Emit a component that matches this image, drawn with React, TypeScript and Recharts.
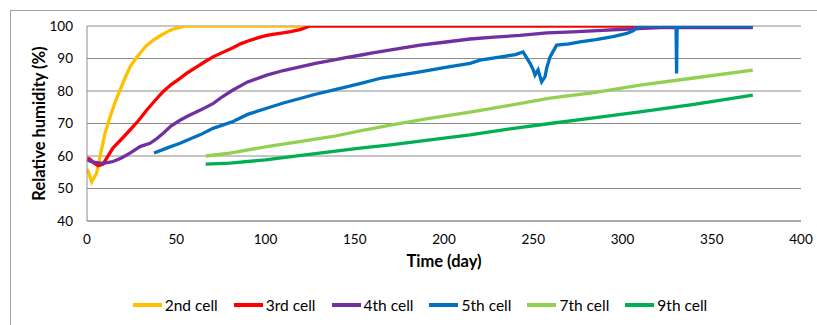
import React from 'react';
import { LineChart, Line, XAxis, YAxis, CartesianGrid, Label } from 'recharts';

const xTicks = [0, 50, 100, 150, 200, 250, 300, 350, 400];
const yTicks = [40, 50, 60, 70, 80, 90, 100];

const seriesNames = ['2nd cell', '3rd cell', '4th cell', '5th cell', '7th cell', '9th cell'];
const seriesColors = ['#FFC000', '#FF0000', '#7030A0', '#0070C0', '#92D050', '#00B050'];

const cell2Days = [0, 0.7, 2.6, 5.4, 7.3, 10.1, 12.9, 15.7, 18.5, 21.3, 24.1, 26.9, 29.7, 33, 37, 41, 44.8, 48, 52.1, 55, 125];
const cell2RH = [56.0, 55.3, 52.0, 54.7, 59.8, 67, 72, 76.5, 80.3, 84, 87.4, 89.7, 91.6, 93.8, 95.6, 97, 98.2, 99, 99.6, 100, 100];

const cell3Days = [0, 1.7, 4, 6.3, 9, 14.6, 19, 24.1, 29, 33.4, 38, 42.6, 47, 52.1, 56.5, 61.5, 66, 70.6, 74.5, 81.8, 86, 91.3, 96, 100.7, 105, 109.8, 114, 119.3, 122, 125, 373];
const cell3RH = [59.4, 59, 57.8, 57, 57.5, 62.5, 65, 68, 71, 74.1, 77, 79.8, 81.9, 83.9, 85.7, 87.4, 89, 90.5, 91.5, 93.3, 94.5, 95.6, 96.4, 97.1, 97.5, 97.9, 98.3, 98.9, 99.4, 100, 100];

const cell4Days = [0, 3, 7.3, 10, 14.6, 19, 24.1, 29.7, 35.3, 39, 42.7, 47, 52.1, 56.5, 61.5, 66, 70.8, 76, 81.8, 90, 100.7, 110, 119.3, 128, 137.8, 145, 152.9, 160, 172, 186.6, 200, 214.6, 228, 242.6, 257.7, 272.3, 286, 300.3, 312, 321, 340, 373];
const cell4RH = [58.8, 58.2, 57.8, 57.8, 58.3, 59.3, 60.9, 62.9, 63.9, 65.3, 67, 69.2, 71, 72.3, 73.6, 74.8, 76.2, 78.3, 80.3, 82.8, 84.9, 86.3, 87.4, 88.5, 89.5, 90.3, 91, 91.7, 92.8, 94.1, 95, 96, 96.6, 97.1, 97.9, 98.2, 98.6, 99, 99.3, 99.5, 99.5, 99.5];

const cell5Days = [37.5, 45, 52.1, 63.3, 70.6, 81.8, 90, 100.7, 110, 119.3, 128, 137.8, 152.9, 165, 186.6, 200, 214.6, 220.2, 232, 240, 244.3, 246, 248.2, 250, 251, 252.7, 254.7, 256.6, 257.5, 259.4, 263.1, 270, 276.2, 285, 294.7, 302.4, 305.9, 309.8, 330, 330.3, 330.6, 373];
const cell5RH = [60.9, 62.5, 63.9, 66.5, 68.5, 70.6, 72.8, 74.7, 76.3, 77.7, 79, 80.3, 82.3, 84, 85.9, 87.2, 88.5, 89.5, 90.5, 91.2, 92, 90.5, 88.5, 86.5, 84.9, 86.5, 82.8, 84.4, 87, 90.5, 94.1, 94.5, 95.1, 95.8, 96.7, 97.7, 98.5, 100, 100, 85.4, 100, 100];

const cell7Days = [66.5, 80, 100.7, 120, 137.8, 152.9, 170, 190, 214.6, 235, 259.4, 285, 309.8, 340, 373];
const cell7RH = [60, 60.9, 62.9, 64.5, 66, 67.7, 69.5, 71.4, 73.5, 75.4, 77.8, 79.6, 81.8, 84, 86.4];

const cell9Days = [66.5, 80, 100, 120, 152.9, 170, 190, 214.6, 235, 259.4, 285, 309.8, 340, 373];
const cell9RH = [57.5, 57.8, 58.8, 60.2, 62.4, 63.4, 64.8, 66.5, 68.2, 70, 71.8, 73.6, 75.9, 78.7];

const toPoints = (days: number[], rh: number[]) => days.map((d, i) => ({ day: d, rh: rh[i] }));

const seriesData = [
  toPoints(cell2Days, cell2RH),
  toPoints(cell3Days, cell3RH),
  toPoints(cell4Days, cell4RH),
  toPoints(cell5Days, cell5RH),
  toPoints(cell7Days, cell7RH),
  toPoints(cell9Days, cell9RH),
];

const FONT = 'Lato, "Open Sans", sans-serif';
const GRID = '#8c8c8c';

const YTitle = (props: any) => {
  const vb = props.viewBox || {};
  const cx = (vb.x || 0) + 39;
  const cy = (vb.y || 0) + (vb.height || 0) / 2;
  return (
    <text
      x={cx}
      y={cy}
      transform={`rotate(-90, ${cx}, ${cy})`}
      textAnchor="middle"
      dominantBaseline="central"
      fontFamily={FONT}
      fontWeight="bold"
      fontSize={16.5}
      fill="#000"
    >
      Relative humidity (%)
    </text>
  );
};

export default function App() {
  return (
    <div
      style={{
        position: 'fixed',
        left: 0,
        top: 0,
        width: 817,
        height: 325,
        overflow: 'hidden',
        background: '#fff',
        fontFamily: FONT,
      }}
    >
      <div
        style={{
          position: 'absolute',
          left: 10,
          top: 10,
          width: 840,
          height: 340,
          border: '1px solid #a0a0a0',
          boxSizing: 'border-box',
        }}
      />
      <div style={{ position: 'absolute', left: 0, top: 0 }}>
        <LineChart width={817} height={325} margin={{ top: 26, right: 16, bottom: 0, left: 0 }}>
          <CartesianGrid vertical={false} stroke={GRID} strokeWidth={1} />
          <XAxis
            dataKey="day"
            type="number"
            domain={[0, 400]}
            ticks={xTicks}
            tickLine={false}
            axisLine={{ stroke: GRID }}
            height={104}
            tickMargin={7}
            tick={{ fill: '#000', fontSize: 13.5, fontFamily: FONT }}
            allowDataOverflow
          >
            <Label
              value="Time (day)"
              position="insideTop"
              offset={34}
              style={{ fontFamily: FONT, fontWeight: 'bold', fontSize: 16.5, fill: '#000' }}
            />
          </XAxis>
          <YAxis
            type="number"
            domain={[40, 100]}
            ticks={yTicks}
            tickLine={false}
            axisLine={{ stroke: GRID }}
            width={87}
            tickMargin={8}
            tick={{ fill: '#000', fontSize: 13.5, fontFamily: FONT }}
            allowDataOverflow
          >
            <Label content={<YTitle />} position="center" />
          </YAxis>
          {seriesData.map((data, i) => (
            <Line
              key={seriesNames[i]}
              data={data}
              dataKey="rh"
              name={seriesNames[i]}
              type="linear"
              stroke={seriesColors[i]}
              strokeWidth={3.3}
              dot={false}
              activeDot={false}
              isAnimationActive={false}
            />
          ))}
        </LineChart>
      </div>
      <div
        style={{
          position: 'absolute',
          left: 10,
          width: 820,
          top: 295,
          display: 'flex',
          justifyContent: 'center',
          alignItems: 'center',
          gap: 16,
          fontSize: 15.5,
          color: '#000',
        }}
      >
        {seriesNames.map((n, i) => (
          <div key={n} style={{ display: 'flex', alignItems: 'center' }}>
            <div style={{ width: 29, height: 3.5, background: seriesColors[i], marginRight: 3 }} />
            <span style={{ lineHeight: '20px' }}>{n}</span>
          </div>
        ))}
      </div>
    </div>
  );
}
